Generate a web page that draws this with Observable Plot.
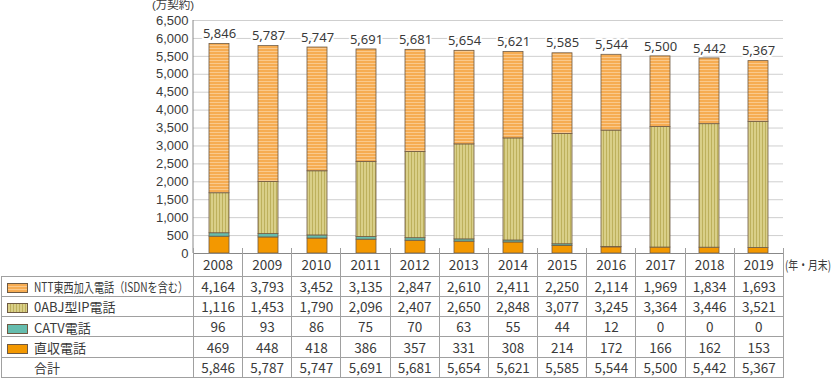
<!DOCTYPE html>
<html>
<head>
<meta charset="utf-8">
<script src="https://cdn.jsdelivr.net/npm/d3@7"></script>
<script src="https://cdn.jsdelivr.net/npm/@observablehq/plot@0.6"></script>
<style>
  body { margin: 0; background: #fff; }
  #wrap { position: relative; width: 831px; height: 379px; font-family: "Noto Sans CJK JP", "Noto Sans", sans-serif; color: #3a3a3a; }
  #chart svg { overflow: visible; }
  .fit { display: inline-block; white-space: nowrap; transform-origin: left center; line-height: 1; }
  #unit { position: absolute; left: 152px; top: 0px; font-size: 11.5px; line-height: 1; font-family: "Liberation Sans", "Noto Sans CJK JP", sans-serif; }
  #yr { position: absolute; left: 785px; top: 259px; font-size: 12.5px; line-height: 1; }
  table { position: absolute; left: 1px; top: 248px; border-collapse: collapse; table-layout: fixed; width: 782px; font-size: 13.5px; }
  td { padding: 0; text-align: center; border: 1px solid #a0a0a0; white-space: nowrap; overflow: visible; line-height: 1; }
  tr.yr td { height: 28px; border-top: none; padding-top: 5px; box-sizing: border-box; }
  tr.yr td.blank { border: none; border-bottom: 1px solid #a0a0a0; border-right: 1px solid #a0a0a0; }
  tr.row td { height: 20.3px; box-sizing: border-box; padding-top: 1px; }
  td.lab { text-align: left; padding-left: 5px; font-size: 13px; }
  td.lab svg { vertical-align: -1px; margin-right: 6px; }
  td.lab span.sp { display: inline-block; width: 27px; }
</style>
</head>
<body>
<svg width="0" height="0" style="position:absolute">
  <defs>
    <pattern id="pNTT" width="4" height="3" patternUnits="userSpaceOnUse">
      <rect width="4" height="3" fill="#F6AC52"></rect>
      <rect y="0" width="4" height="1" fill="#FAC98C"></rect>
    </pattern>
    <pattern id="pIP" width="3" height="4" patternUnits="userSpaceOnUse">
      <rect width="3" height="4" fill="#D9CF88"></rect>
      <rect x="0" width="1" height="4" fill="#BDB05C"></rect>
    </pattern>
  </defs>
</svg>
<div id="wrap">
  <div id="chart"></div>
  <div id="unit"><span class="fit" data-w="47">(万契約)</span></div>
  <div id="yr"><span class="fit" data-w="46">(年・月末)</span></div>
</div>
<script>
const years = ["2008","2009","2010","2011","2012","2013","2014","2015","2016","2017","2018","2019"];
const ntt    = [4164,3793,3452,3135,2847,2610,2411,2250,2114,1969,1834,1693];
const ip     = [1116,1453,1790,2096,2407,2650,2848,3077,3245,3364,3446,3521];
const catv   = [96,93,86,75,70,63,55,44,12,0,0,0];
const direct = [469,448,418,386,357,331,308,214,172,166,162,153];
const total  = [5846,5787,5747,5691,5681,5654,5621,5585,5544,5500,5442,5367];
const yTicks = [0,500,1000,1500,2000,2500,3000,3500,4000,4500,5000,5500,6000,6500];

const seriesNames = ["直収電話","CATV電話","0ABJ型IP電話","NTT東西加入電話(ISDNを含む)"];
const seriesLabels = ["NTT東西加入電話（ISDNを含む）","0ABJ型IP電話","CATV電話","直収電話"];
const seriesFills = ["#F39800","#66BDAE","url(#pIP)","url(#pNTT)"];
const seriesVals = [direct, catv, ip, ntt];

const tidy = [];
seriesNames.forEach((s, k) => years.forEach((y, i) => tidy.push({year: y, series: s, value: seriesVals[k][i]})));
const totals = years.map((y, i) => ({year: y, total: total[i]}));

const fmt = d3.format(",");
const stroke = "#6e5a44";
const numFont = '"Noto Sans", sans-serif';

const yAxisLine = (index, scales, values, dims) => {
  const g = d3.create("svg:line")
    .attr("x1", dims.marginLeft).attr("x2", dims.marginLeft)
    .attr("y1", dims.marginTop).attr("y2", dims.height - dims.marginBottom)
    .attr("stroke", "#888").attr("stroke-width", 1);
  return g.node();
};

const chart = Plot.plot({
  width: 831, height: 254,
  marginTop: 20, marginBottom: 1, marginLeft: 193, marginRight: 48,
  style: {fontFamily: numFont, fontSize: "13px", color: "#3a3a3a", background: "transparent", overflow: "visible"},
  x: {domain: years, paddingInner: 0.593, paddingOuter: 0.2966, align: 0.5, axis: null},
  y: {domain: [0, 6500], ticks: yTicks, tickFormat: fmt, label: null},
  color: {domain: seriesNames, range: seriesFills},
  marks: [
    Plot.gridY(yTicks, {stroke: "#cfcfcf", strokeOpacity: 1}),
    Plot.axisY({ticks: yTicks, tickFormat: fmt, tickSize: 0, tickPadding: 5, label: null, fontSize: 13, fontFamily: '"Liberation Sans", sans-serif'}),
    Plot.barY(tidy, {x: "year", y: "value", fill: "series", stroke: stroke, strokeWidth: 0.8, order: seriesNames}),
    Plot.text(totals, {x: "year", y: "total", text: d => fmt(d.total), dy: -10, fontSize: 13, fill: "#3a3a3a", stroke: "white", strokeWidth: 4}),
    Plot.ruleY([0], {stroke: "#888"}),
    yAxisLine
  ]
});
document.getElementById("chart").appendChild(chart);

// data table
const swatch = (fill) => `<svg width="21" height="10"><rect x="0.5" y="0.5" width="20" height="9" fill="${fill}" stroke="${stroke}" stroke-width="1"></rect></svg>`;
const tableFills = ["url(#pNTT)","url(#pIP)","#66BDAE","#F39800"];
const tableVals = [ntt, ip, catv, direct];
let html = `<colgroup><col style="width:192px">${years.map(() => '<col style="width:49.17px">').join("")}</colgroup>`;
html += `<tr class="yr"><td class="blank"></td>${years.map(y => `<td>${y}</td>`).join("")}</tr>`;
tableVals.forEach((vals, k) => {
  const lab = k === 0 ? `<span class="fit" data-w="154">${seriesLabels[k]}</span>` : seriesLabels[k];
  html += `<tr class="row"><td class="lab">${swatch(tableFills[k])}${lab}</td>${vals.map(v => `<td>${fmt(v)}</td>`).join("")}</tr>`;
});
html += `<tr class="row"><td class="lab"><span class="sp"></span>合計</td>${total.map(v => `<td>${fmt(v)}</td>`).join("")}</tr>`;
const table = document.createElement("table");
table.innerHTML = html;
document.getElementById("wrap").appendChild(table);

document.querySelectorAll(".fit").forEach(el => {
  const w = el.getBoundingClientRect().width;
  const target = +el.dataset.w;
  if (w > target) {
    el.style.transform = `scaleX(${target / w})`;
    el.style.marginRight = `${target - w}px`;
  }
});
</script>
</body>
</html>
